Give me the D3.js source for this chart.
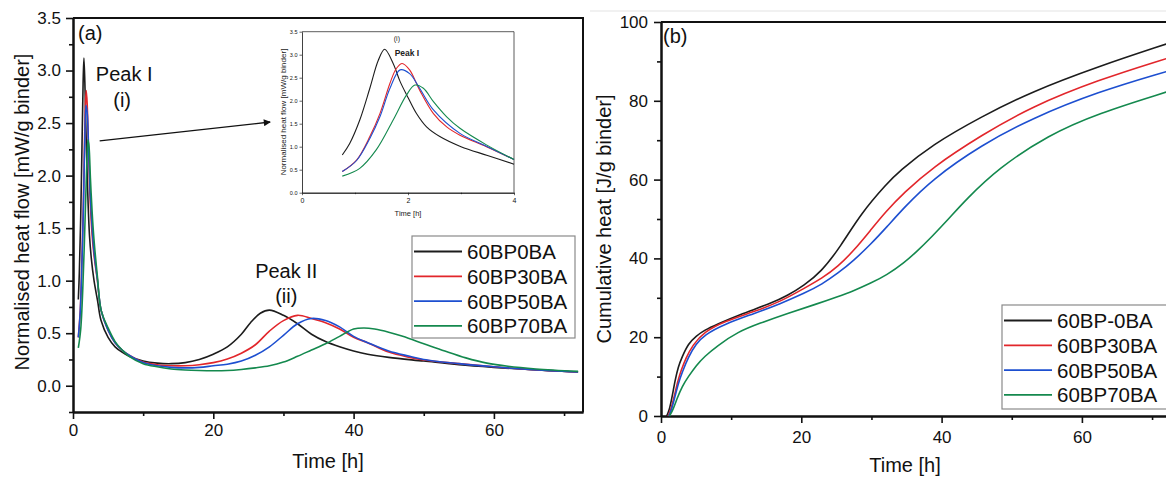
<!DOCTYPE html>
<html>
<head>
<meta charset="utf-8">
<script src="https://cdn.jsdelivr.net/npm/d3@7"></script>
<style>
  body { margin: 0; background: #fff; }
  svg { display: block; font-family: "Liberation Sans", Arial, sans-serif; }
</style>
</head>
<body>
<svg id="chart" width="1166" height="479"></svg>
<script>
// series names + colours
const namesA = ["60BP0BA", "60BP30BA", "60BP50BA", "60BP70BA"]
const namesB = ["60BP-0BA", "60BP30BA", "60BP50BA", "60BP70BA"]
const colors = ["#1c1c1c", "#e2262b", "#1d4fd0", "#14894e"]

// (a) normalised heat flow [mW/g binder] vs time [h]
const flow0BA = [[0.76,0.82],[0.9,1.07],[1.09,1.58],[1.28,2.27],[1.44,2.88],[1.56,3.12],[1.72,2.81],[1.85,2.42],[2.0,2.07],[2.16,1.72],[2.35,1.43],[2.6,1.22],[3.0,1.0],[3.5,0.81],[4.0,0.62],[5,0.46],[6,0.37],[7,0.32],[8,0.28],[10,0.235],[12,0.215],[14,0.21],[16,0.22],[18,0.25],[20,0.3],[22,0.37],[24,0.49],[25.3,0.6],[26.7,0.69],[28,0.72],[30,0.67],[32,0.59],[34,0.49],[36,0.42],[38,0.37],[40,0.33],[42,0.3],[45,0.27],[50,0.235],[55,0.2],[60,0.175],[65,0.155],[72,0.13]]
const flow30BA = [[0.76,0.46],[1.03,0.71],[1.28,1.22],[1.47,1.72],[1.66,2.38],[1.78,2.7],[1.89,2.81],[2.03,2.67],[2.22,2.23],[2.48,1.72],[2.73,1.43],[2.98,1.25],[3.48,1.0],[4.0,0.72],[5,0.53],[6,0.41],[7,0.34],[8,0.29],[10,0.225],[12,0.2],[14,0.19],[16,0.19],[18,0.2],[20,0.22],[22,0.255],[24,0.31],[26,0.39],[28,0.52],[30,0.62],[32,0.67],[34,0.64],[36,0.6],[38,0.54],[40,0.46],[42,0.41],[45,0.32],[48,0.27],[50,0.245],[55,0.21],[60,0.18],[65,0.155],[72,0.13]]
const flow50BA = [[0.76,0.46],[1.03,0.7],[1.28,1.18],[1.47,1.65],[1.66,2.27],[1.85,2.67],[2.03,2.59],[2.22,2.27],[2.48,1.8],[2.98,1.29],[3.48,1.01],[4.0,0.72],[5,0.53],[6,0.41],[7,0.34],[8,0.29],[10,0.22],[12,0.19],[14,0.175],[16,0.17],[18,0.175],[20,0.19],[22,0.205],[24,0.235],[26,0.29],[28,0.37],[30,0.48],[32,0.59],[34,0.64],[36,0.62],[38,0.56],[40,0.47],[42,0.41],[45,0.33],[48,0.28],[50,0.25],[55,0.21],[60,0.18],[65,0.155],[72,0.13]]
const flow70BA = [[0.76,0.36],[1.09,0.53],[1.4,0.93],[1.72,1.58],[1.97,2.12],[2.13,2.34],[2.29,2.27],[2.48,1.98],[2.73,1.65],[2.98,1.4],[3.48,1.04],[4.0,0.72],[5,0.55],[6,0.42],[7,0.34],[8,0.28],[10,0.21],[12,0.18],[14,0.16],[16,0.15],[18,0.145],[20,0.143],[22,0.145],[24,0.155],[26,0.17],[28,0.19],[30,0.225],[32,0.28],[34,0.34],[36,0.4],[38,0.47],[40,0.54],[41.5,0.55],[43,0.54],[45,0.51],[47,0.47],[50,0.4],[53,0.33],[56,0.265],[59,0.215],[62,0.185],[66,0.16],[72,0.137]]

// (b) cumulative heat [J/g binder] vs time [h]
const cum0BA = [[0.8,0],[1.2,1.5],[1.6,5],[2,9],[2.45,12.5],[3,15],[3.9,18.4],[5,20.3],[6.2,21.8],[8,23.3],[11,25.6],[15.7,28.6],[18,30.5],[20.4,33.2],[22.8,36.5],[25.6,43],[28.5,51.4],[32.2,59],[33.9,62],[38.6,68.8],[45.7,76],[52.8,82.3],[62.3,88.7],[72,94.4]]
const cum30BA = [[1.0,0],[1.4,1.5],[1.9,5],[2.4,9],[2.9,11.7],[3.5,14.5],[4.5,18],[6.2,21.4],[9,24],[13.3,26.5],[17,29],[20.4,32.4],[23,35],[25.2,37.9],[27.5,42],[29.9,47.2],[32,51.8],[34.6,56.6],[38.6,63],[45.7,71.3],[52.8,78.5],[62.3,85.3],[72,90.7]]
const cum50BA = [[1.1,0],[1.5,1.5],[2.0,5],[2.5,8.5],[3.0,11],[3.9,15],[5,18.3],[6.2,20.6],[9,23.3],[13.3,26],[17,28.5],[20.4,31.1],[23,33.5],[25.2,36.2],[27.5,39.5],[29.9,43.6],[32.2,48],[34.6,52.8],[38.6,60],[45.7,68.8],[52.8,75.5],[62.3,82.3],[72,87.4]]
const cum70BA = [[1.2,0],[1.7,1.5],[2.3,4.5],[3.0,7.5],[3.9,10],[5,12.8],[6.2,15.1],[8,17.8],[11,21.4],[14,23.5],[18.1,26.1],[22,28.3],[25.2,30.3],[27.5,31.8],[29.9,33.7],[32.2,35.8],[34.6,38.8],[36.5,41.8],[38.6,45.5],[41,50],[43.4,54.8],[48.1,62.9],[55.2,71.3],[62.3,76.8],[72,82.2]]

// tick values
const ticksAy = [0, 0.5, 1, 1.5, 2, 2.5, 3, 3.5]
const minorAy = [-0.25, 0.25, 0.75, 1.25, 1.75, 2.25, 2.75, 3.25]
const ticksX = [0, 20, 40, 60]
const minorX = [10, 30, 50, 70]
const ticksBy = [0, 20, 40, 60, 80, 100]
const minorBy = [10, 30, 50, 70, 90]
const ticksInsetX = [0, 2, 4]
const minorInsetX = [1, 3]

const flows = [flow0BA, flow30BA, flow50BA, flow70BA]
const cums = [cum0BA, cum30BA, cum50BA, cum70BA]

let svg = d3.select("#chart")

// scales
let xA = d3.scaleLinear().domain([0, 72.7]).range([73, 583])
let yA = d3.scaleLinear().domain([-0.25, 3.5]).range([412, 18])
let xB = d3.scaleLinear().domain([0, 72.7]).range([661, 1171])
let yB = d3.scaleLinear().domain([0, 100]).range([416, 22])
let xI = d3.scaleLinear().domain([0, 4]).range([302, 514])
let yI = d3.scaleLinear().domain([0, 3.5]).range([192.7, 31.7])

// faint screenshot line on top
svg.append("line")
    .attr("x1", 590).attr("x2", 1166).attr("y1", 11).attr("y2", 11)
    .attr("stroke", "#ececec").attr("stroke-width", 1.5)

let styleAxis = (g, width, fontSize) => {
    g.select(".domain").attr("stroke", "#111").attr("stroke-width", width)
    g.selectAll(".tick line").attr("stroke", "#111").attr("stroke-width", width * 0.8)
    g.selectAll(".tick text").style("font-size", fontSize + "px").attr("fill", "#111")
}

let drawLines = (data, xs, ys, width, curve) => {
    let line = d3.line()
        .x(d => xs(d[0]))
        .y(d => ys(d[1]))
        .curve(curve)
    svg.append("g")
        .selectAll("path")
        .data(data)
        .enter()
        .append("path")
        .attr("d", d => line(d))
        .attr("fill", "none")
        .attr("stroke", (d, i) => colors[i])
        .attr("stroke-width", width)
}

let drawLegend = (names, x, y, w, h) => {
    let g = svg.append("g")
    g.append("rect")
        .attr("x", x).attr("y", y).attr("width", w).attr("height", h)
        .attr("fill", "#fff").attr("stroke", "#8a8a8a").attr("stroke-width", 1.2)
    let rows = g.selectAll("g.row")
        .data(names)
        .enter()
        .append("g")
        .attr("class", "row")
        .attr("transform", (d, i) => "translate(" + x + "," + (y + 15.5 + i * 24.8) + ")")
    rows.append("line")
        .attr("x1", 2).attr("x2", 50)
        .attr("stroke", (d, i) => colors[i]).attr("stroke-width", 1.8)
    rows.append("text")
        .attr("x", 55).attr("y", 7.5)
        .style("font-size", "20.5px")
        .attr("fill", "#111")
        .text(d => d)
}

// ---------- panel (a) ----------
let drawPanelA = () => {
    let yAxis = svg.append("g").attr("transform", "translate(73,0)")
        .call(d3.axisLeft(yA).tickValues(ticksAy).tickFormat(d3.format(".1f")).tickSize(7).tickSizeOuter(0).tickPadding(5))
    styleAxis(yAxis, 2, 17)
    let yMinor = svg.append("g").attr("transform", "translate(73,0)")
        .call(d3.axisLeft(yA).tickValues(minorAy).tickFormat("").tickSize(4).tickSizeOuter(0))
    styleAxis(yMinor, 2, 17)

    let xAxis = svg.append("g").attr("transform", "translate(0,412)")
        .call(d3.axisBottom(xA).tickValues(ticksX).tickSize(7).tickSizeOuter(0).tickPadding(5))
    styleAxis(xAxis, 2, 17)
    let xMinor = svg.append("g").attr("transform", "translate(0,412)")
        .call(d3.axisBottom(xA).tickValues(minorX).tickFormat("").tickSize(4).tickSizeOuter(0))
    styleAxis(xMinor, 2, 17)

    // frame
    svg.append("path")
        .attr("d", "M" + xA(0) + "," + yA(3.5) + "H" + xA(72.7) + "V" + yA(-0.25))
        .attr("fill", "none").attr("stroke", "#111").attr("stroke-width", 2)

    drawLines(flows, xA, yA, 1.6, d3.curveCatmullRom.alpha(0.5))

    svg.append("text").attr("x", 29).attr("y", 212)
        .attr("transform", "rotate(-90,29,212)")
        .attr("text-anchor", "middle").style("font-size", "20px").attr("fill", "#111")
        .text("Normalised heat flow [mW/g binder]")
    svg.append("text").attr("x", 328).attr("y", 468)
        .attr("text-anchor", "middle").style("font-size", "20px").attr("fill", "#111")
        .text("Time [h]")
    svg.append("text").attr("x", 78).attr("y", 40)
        .style("font-size", "20px").attr("fill", "#111").text("(a)")

    let notes = [["Peak I", 7.3, 2.9], ["(i)", 7.0, 2.65], ["Peak II", 30.4, 1.025], ["(ii)", 30.4, 0.787]]
    svg.selectAll("text.note")
        .data(notes)
        .enter()
        .append("text")
        .attr("class", "note")
        .attr("x", d => xA(d[1]))
        .attr("y", d => yA(d[2]))
        .attr("text-anchor", "middle")
        .style("font-size", "20px")
        .attr("fill", "#111")
        .text(d => d[0])

    // arrow to the inset
    svg.append("defs").append("marker")
        .attr("id", "head").attr("viewBox", "0 0 10 10")
        .attr("refX", 9).attr("refY", 5)
        .attr("markerWidth", 9).attr("markerHeight", 7)
        .attr("markerUnits", "userSpaceOnUse")
        .attr("orient", "auto")
        .append("path").attr("d", "M0,0L10,5L0,10Z").attr("fill", "#111")
    svg.append("line")
        .attr("x1", xA(3.8)).attr("y1", yA(2.33))
        .attr("x2", xA(28.1)).attr("y2", yA(2.51))
        .attr("stroke", "#111").attr("stroke-width", 1.3)
        .attr("marker-end", "url(#head)")

    drawLegend(namesA, 412, 236, 163, 102)
}

// ---------- inset ----------
let drawInset = () => {
    let yAxis = svg.append("g").attr("transform", "translate(302,0)")
        .call(d3.axisLeft(yI).tickValues(ticksAy).tickFormat(d3.format(".1f")).tickSize(2.5).tickSizeOuter(0).tickPadding(2))
    styleAxis(yAxis, 0.8, 5.5)
    let xAxis = svg.append("g").attr("transform", "translate(0,192.7)")
        .call(d3.axisBottom(xI).tickValues(ticksInsetX).tickFormat(d3.format("d")).tickSize(2.5).tickSizeOuter(0).tickPadding(3))
    styleAxis(xAxis, 0.8, 7)
    let xMinor = svg.append("g").attr("transform", "translate(0,192.7)")
        .call(d3.axisBottom(xI).tickValues(minorInsetX).tickFormat("").tickSize(1.5).tickSizeOuter(0))
    styleAxis(xMinor, 0.8, 7)

    svg.append("path")
        .attr("d", "M" + xI(0) + "," + yI(3.5) + "H" + xI(4) + "V" + yI(0))
        .attr("fill", "none").attr("stroke", "#333").attr("stroke-width", 0.8)

    let early = flows.map(s => s.filter(d => d[0] <= 4))
    drawLines(early, xI, yI, 1.1, d3.curveCatmullRom.alpha(0.5))

    svg.append("text").attr("x", 286).attr("y", 112)
        .attr("transform", "rotate(-90,286,112)")
        .attr("text-anchor", "middle").style("font-size", "8px").attr("fill", "#222")
        .text("Normalised heat flow [mW/g binder]")
    svg.append("text").attr("x", 408).attr("y", 216)
        .attr("text-anchor", "middle").style("font-size", "7.5px").attr("fill", "#222")
        .text("Time [h]")
    svg.append("text").attr("x", xI(1.79)).attr("y", yI(3.3))
        .attr("text-anchor", "middle").style("font-size", "7px").attr("fill", "#222")
        .text("(i)")
    svg.append("text").attr("x", xI(1.98)).attr("y", yI(2.98))
        .attr("text-anchor", "middle").style("font-size", "8.5px").style("font-weight", "bold").attr("fill", "#222")
        .text("Peak I")
}

// ---------- panel (b) ----------
let drawPanelB = () => {
    let yAxis = svg.append("g").attr("transform", "translate(661,0)")
        .call(d3.axisLeft(yB).tickValues(ticksBy).tickSize(7).tickSizeOuter(0).tickPadding(6))
    styleAxis(yAxis, 2, 17)
    let yMinor = svg.append("g").attr("transform", "translate(661,0)")
        .call(d3.axisLeft(yB).tickValues(minorBy).tickFormat("").tickSize(4).tickSizeOuter(0))
    styleAxis(yMinor, 2, 17)

    let xAxis = svg.append("g").attr("transform", "translate(0,416)")
        .call(d3.axisBottom(xB).tickValues(ticksX).tickSize(7).tickSizeOuter(0).tickPadding(8))
    styleAxis(xAxis, 2, 17)
    let xMinor = svg.append("g").attr("transform", "translate(0,416)")
        .call(d3.axisBottom(xB).tickValues(minorX).tickFormat("").tickSize(4).tickSizeOuter(0))
    styleAxis(xMinor, 2, 17)

    svg.append("path")
        .attr("d", "M" + xB(0) + "," + yB(100) + "H" + xB(72.7) + "V" + yB(0))
        .attr("fill", "none").attr("stroke", "#111").attr("stroke-width", 2)

    drawLines(cums, xB, yB, 1.6, d3.curveBasis)

    svg.append("text").attr("x", 611).attr("y", 219)
        .attr("transform", "rotate(-90,611,219)")
        .attr("text-anchor", "middle").style("font-size", "20px").attr("fill", "#111")
        .text("Cumulative heat [J/g binder]")
    svg.append("text").attr("x", 905).attr("y", 472)
        .attr("text-anchor", "middle").style("font-size", "20px").attr("fill", "#111")
        .text("Time [h]")
    svg.append("text").attr("x", 663).attr("y", 43)
        .style("font-size", "20px").attr("fill", "#111").text("(b)")

    drawLegend(namesB, 1002, 305, 180, 104)
}

drawPanelA()
drawInset()
drawPanelB()
</script>
</body>
</html>
